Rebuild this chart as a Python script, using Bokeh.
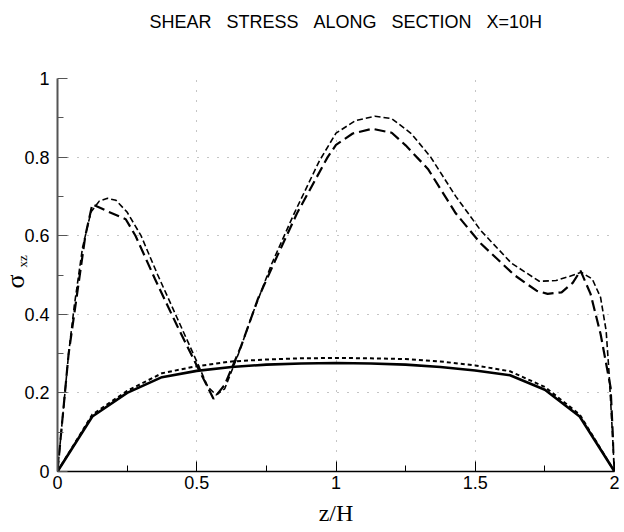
from bokeh.plotting import figure
from bokeh.models import FixedTicker, Range1d, Title
from bokeh.embed import file_html
from bokeh.resources import INLINE

# ---- data ----
title_words = ["SHEAR", "STRESS", "ALONG", "SECTION", "X=10H"]
x_label = "z/H"
y_label_main = "σ"
y_label_sub = "xz"

x_ticks = [0, 0.5, 1, 1.5, 2]
x_tick_labels = ["0", "0.5", "1", "1.5", "2"]
x_minor = [0.25, 0.75, 1.25, 1.75]
y_ticks = [0, 0.2, 0.4, 0.6, 0.8, 1.0]
y_tick_labels = ["0", "0.2", "0.4", "0.6", "0.8", "1"]
y_minor = [0.1, 0.3, 0.5, 0.7, 0.9]

# lower solid curve
z_solid = [0, 0.125, 0.25, 0.375, 0.5, 0.625, 0.75, 0.875, 1.0, 1.125, 1.25, 1.375, 1.5, 1.625, 1.75, 1.875, 2.0]
s_solid = [0, 0.14, 0.20, 0.24, 0.256, 0.266, 0.272, 0.275, 0.276, 0.275, 0.272, 0.266, 0.257, 0.245, 0.208, 0.14, 0]

# lower short-dashed curve
z_sdash = [0, 0.125, 0.25, 0.375, 0.5, 0.625, 0.75, 0.875, 1.0, 1.125, 1.25, 1.375, 1.5, 1.625, 1.75, 1.875, 2.0]
s_sdash = [0, 0.145, 0.205, 0.25, 0.268, 0.28, 0.285, 0.288, 0.289, 0.288, 0.286, 0.28, 0.27, 0.255, 0.215, 0.145, 0]

# upper thin dashed curve
z_upper = [0, 0.02, 0.04, 0.06, 0.09, 0.12, 0.15, 0.18, 0.21, 0.25, 0.30, 0.36, 0.43, 0.50, 0.54, 0.57, 0.60,
           0.65, 0.70, 0.77, 0.85, 0.94, 1.0, 1.07, 1.14, 1.2, 1.27, 1.34, 1.43, 1.52, 1.63, 1.73, 1.79, 1.84,
           1.88, 1.92, 1.95, 1.97, 1.98, 1.99, 2.0]
s_upper = [0, 0.15, 0.30, 0.42, 0.57, 0.66, 0.688, 0.695, 0.69, 0.66, 0.60, 0.50, 0.39, 0.28, 0.215, 0.195, 0.21,
           0.30, 0.40, 0.53, 0.657, 0.79, 0.861, 0.893, 0.904, 0.898, 0.86, 0.80, 0.70, 0.613, 0.53, 0.484, 0.486, 0.497,
           0.507, 0.49, 0.443, 0.358, 0.256, 0.13, 0]

# upper long-dashed curve
z_ldash = [0, 0.02, 0.04, 0.07, 0.10, 0.125, 0.18, 0.245, 0.28, 0.35, 0.43, 0.50, 0.56, 0.60, 0.66, 0.72, 0.79,
           0.86, 0.97, 1.0, 1.06, 1.13, 1.2, 1.25, 1.33, 1.43, 1.52, 1.64, 1.72, 1.76, 1.81, 1.85, 1.878, 1.914,
           1.95, 1.986, 2.0]
s_ldash = [0, 0.15, 0.30, 0.45, 0.60, 0.68, 0.662, 0.642, 0.60, 0.49, 0.37, 0.27, 0.185, 0.22, 0.32, 0.44, 0.55,
           0.657, 0.80, 0.831, 0.86, 0.872, 0.862, 0.83, 0.77, 0.657, 0.58, 0.50, 0.46, 0.452, 0.456, 0.48, 0.511, 0.452,
           0.35, 0.214, 0]

# ---- figure ----
p = figure(width=624, height=532, output_backend="svg", toolbar_location=None,
           x_range=Range1d(0, 2), y_range=Range1d(0, 1),
           min_border_left=57, min_border_right=10, min_border_top=78, min_border_bottom=61)
p.outline_line_color = None
p.background_fill_color = "white"
p.border_fill_color = "white"

# blank spacer between frame and title so the title sits near the top edge
spacer = Title(text=" ", standoff=26, text_font_size="10px")
p.add_layout(spacer, "above")

# wide word gaps as in the reference (SVG collapses plain repeated spaces)
p.title.text = " \u00a0\u00a0".join(title_words)
p.title.align = "left"
p.title.offset = 92
p.title.standoff = 16
p.title.text_font = "Liberation Sans"
p.title.text_font_size = "18px"
p.title.text_font_style = "normal"
p.title.text_color = "black"

# axes
xa = p.xaxis[0]
xa.ticker = FixedTicker(ticks=x_ticks, minor_ticks=x_minor)
xa.major_label_overrides = {t: l for t, l in zip(x_ticks, x_tick_labels)}
xa.major_tick_in = 10
xa.major_tick_out = 0
xa.minor_tick_in = 6
xa.minor_tick_out = 0
xa.axis_line_color = "black"
xa.axis_line_width = 1.5
xa.major_tick_line_color = "black"
xa.minor_tick_line_color = "black"
xa.major_label_text_font = "Liberation Sans"
xa.major_label_text_font_size = "18px"
xa.major_label_text_color = "black"
xa.major_label_standoff = 4
xa.axis_label = x_label
xa.axis_label_text_font = "Liberation Serif"
xa.axis_label_text_font_size = "24px"
xa.axis_label_text_font_style = "normal"
xa.axis_label_text_color = "black"
xa.axis_label_standoff = 8

ya = p.yaxis[0]
ya.ticker = FixedTicker(ticks=y_ticks, minor_ticks=y_minor)
ya.major_label_overrides = {t: l for t, l in zip(y_ticks, y_tick_labels)}
ya.major_tick_in = 10
ya.major_tick_out = 0
ya.minor_tick_in = 6
ya.minor_tick_out = 0
ya.axis_line_color = "#555555"
ya.axis_line_width = 2
ya.major_tick_line_color = "#555555"
ya.minor_tick_line_color = "#555555"
ya.major_label_text_font = "Liberation Sans"
ya.major_label_text_font_size = "18px"
ya.major_label_text_color = "black"
ya.major_label_standoff = 8

# y label: sigma with subscript xz, as two rotated side titles
t_sub = Title(text=y_label_sub, align="left", offset=204, standoff=-17,
              text_font="Liberation Serif", text_font_size="13px", text_font_style="normal", text_color="black")
t_main = Title(text=y_label_main, align="left", offset=183, standoff=-17,
               text_font="Liberation Serif", text_font_size="26px", text_font_style="normal", text_color="black")
p.add_layout(t_sub, "left")
p.add_layout(t_main, "left")

# grid (dotted, sparse, faint)
p.xgrid.ticker = FixedTicker(ticks=x_ticks[1:])
p.ygrid.ticker = FixedTicker(ticks=y_ticks[1:])
for g in (p.xgrid[0], p.ygrid[0]):
    g.grid_line_color = "#8a8a8a"
    g.grid_line_dash = "1 9"
    g.grid_line_width = 1

# curves
p.line(z_solid, s_solid, line_color="black", line_width=2.6)
p.line(z_sdash, s_sdash, line_color="black", line_width=2.0, line_dash="4 3")
p.line(z_upper, s_upper, line_color="black", line_width=1.6, line_dash="6 3")
p.line(z_ldash, s_ldash, line_color="black", line_width=2.2, line_dash="11 5")

open("out.html", "w").write(file_html(p, INLINE))
